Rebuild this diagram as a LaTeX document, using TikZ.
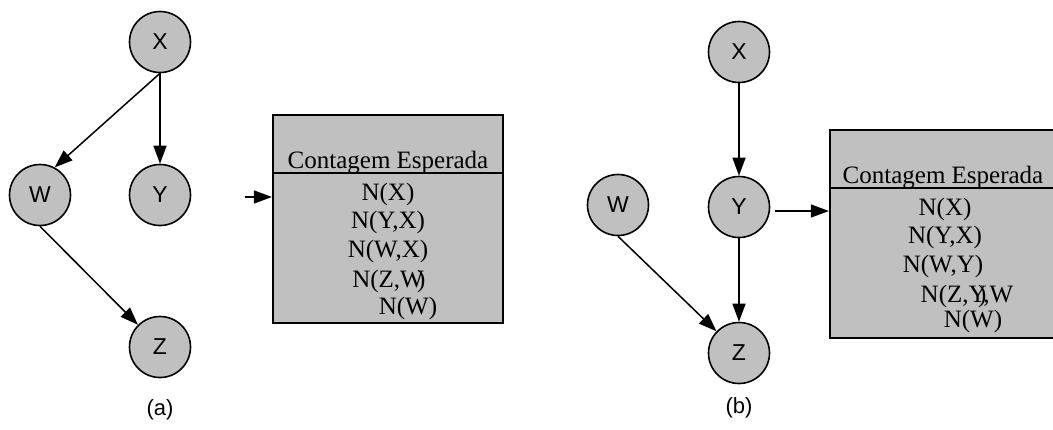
\documentclass[tikz,border=0pt]{standalone}
\usepackage{fontspec}
\setmainfont{Liberation Serif}
\newfontfamily\labelfont{Liberation Sans}
\usetikzlibrary{arrows.meta}
\definecolor{nodegray}{HTML}{C0C0C0}
\tikzset{
  var/.style={circle, draw=black, line width=1.6pt, fill=nodegray,
    minimum size=61pt, inner sep=0pt, font=\labelfont\fontsize{23}{23}\selectfont},
  edge/.style={line width=1.5pt, -{Triangle[length=18pt, width=13pt]}},
  countbox/.style={draw=black, line width=2.2pt, fill=nodegray, inner sep=0pt},
  rule/.style={line width=1.6pt},
  entry/.style={anchor=base, inner sep=0pt, font=\fontsize{25}{25}\selectfont},
  caption/.style={inner sep=0pt, font=\labelfont\fontsize{22}{22}\selectfont}
}
\begin{document}
\begin{tikzpicture}[x=1pt, y=-1pt]
\useasboundingbox (0,0) rectangle (1053,429);
\clip (0,0) rectangle (1053,429);

% ---- (a) network ----
\node[var] (xa) at (160,42) {X};
\node[var] (wa) at (40,195) {W};
\node[var] (ya) at (160,195) {Y};
\node[var] (za) at (160,347) {Z};
\node[caption] (capa) at (160,410) {(a)};
\draw[edge] (xa.south) -- (wa.62);
\draw[edge] (xa.south) -- (ya.north);
\draw[edge] (wa.south) -- (za);

% ---- (a) expected counts ----
\node[countbox, minimum width=230pt, minimum height=208pt] (ta) at (388,219) {};
\draw[rule] (ta.west |- 0,173) -- (ta.east |- 0,173);
\node[entry] (ha) at (388,168) {Contagem Esperada};
\node[entry] (a1) at (388,200) {N(X)};
\node[entry] (a2) at (388,228) {N(Y,X)};
\node[entry] (a3) at (388,257) {N(W,X)};
\node[entry] (a4) at (388,287) {N(Z,\rlap{\kern0.68em)}W};
\node[entry] (a5) at (408,314) {N(W)};
\coordinate (sa) at (245,197);
\draw[edge] (sa) -- (ta.west |- sa);

% ---- (b) network ----
\node[var] (xb) at (739,52) {X};
\node[var] (wb) at (618,205) {W};
\node[var] (yb) at (739,207) {Y};
\node[var] (zb) at (739,353) {Z};
\node[caption] (capb) at (739,408) {(b)};
\draw[edge] (xb.south) -- (yb.north);
\draw[edge] (yb.south) -- (zb.north);
\draw[edge] (wb.south) -- (zb);

% ---- (b) expected counts ----
\node[countbox, minimum width=226pt, minimum height=208pt] (tb) at (943,234) {};
\draw[rule] (tb.west |- 0,188) -- (tb.east |- 0,188);
\node[entry] (hb) at (943,183) {Contagem Esperada};
\node[entry] (b1) at (945,215) {N(X)};
\node[entry] (b2) at (945,243) {N(Y,X)};
\node[entry] (b3) at (943,272) {N(W,Y)};
\node[entry] (b4) at (967,302) {N(Z,\rlap{\kern0.38em)}Y,W};
\node[entry] (b5) at (973,327) {N(W)};
\coordinate (sb) at (775,211);
\draw[edge] (sb) -- (tb.west |- sb);
\end{tikzpicture}
\end{document}
